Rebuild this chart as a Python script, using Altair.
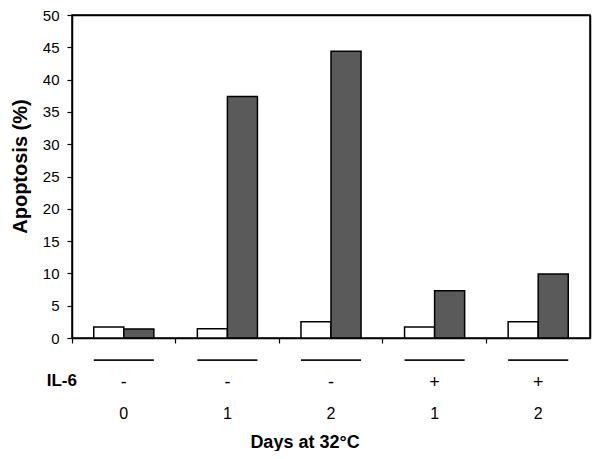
import altair as alt
import pandas as pd

# ---- data ----
groups = ["g1", "g2", "g3", "g4", "g5"]
il6_signs = ["-", "-", "-", "+", "+"]
days = ["0", "1", "2", "1", "2"]
white_values = [1.7, 1.45, 2.5, 1.7, 2.5]
gray_values = [1.4, 37.4, 44.4, 7.3, 9.9]
series_names = ["Series 1", "Series 2"]
series_colors = ["#ffffff", "#5a5a5a"]
y_ticks = [0, 5, 10, 15, 20, 25, 30, 35, 40, 45, 50]
y_max = 50

rows = []
for g, w, d in zip(groups, white_values, gray_values):
    rows.append({"group": g, "series": series_names[0], "value": w})
    rows.append({"group": g, "series": series_names[1], "value": d})
bars_df = pd.DataFrame(rows)
groups_df = pd.DataFrame({"group": groups, "il6": il6_signs, "days": days})
label_df = pd.DataFrame({"t": ["IL-6"]})
title_df = pd.DataFrame({"t": ["Days at 32°C"]})

FONT = "Liberation Sans"
W, H = 518, 323

x_scale = alt.Scale(domain=groups, paddingInner=0.42, paddingOuter=0.21)
y_scale = alt.Scale(domain=[0, y_max], nice=False)

bars = alt.Chart(bars_df).mark_bar(stroke="black", strokeWidth=1.5).encode(
    x=alt.X("group:N", scale=x_scale, sort=groups,
            axis=alt.Axis(orient="bottom", labels=False, title=None, ticks=True, tickSize=5,
                          tickColor="black", tickWidth=1.2, bandPosition=-0.362,
                          domainColor="black", domainWidth=1.5)),
    xOffset=alt.XOffset("series:N", sort=series_names),
    y=alt.Y("value:Q", scale=y_scale,
            axis=alt.Axis(orient="left", values=y_ticks, grid=False, title="Apoptosis  (%)",
                          titleFont=FONT, titleFontSize=20, titleFontWeight="bold",
                          titleColor="black", titleX=-52, titleY=151,
                          titleAngle=270, titleAlign="center", titleBaseline="middle",
                          labelFont=FONT, labelFontSize=15, labelColor="black",
                          labelPadding=8, tickSize=5, tickColor="black",
                          tickWidth=1.2, domainColor="black", domainWidth=1.5)),
    fill=alt.Fill("series:N", scale=alt.Scale(domain=series_names, range=series_colors),
                  legend=None),
)

# invisible layer whose top and right axes close the frame
frame = alt.Chart(bars_df).mark_bar(opacity=0).encode(
    x=alt.X("group:N", scale=x_scale, sort=groups,
            axis=alt.Axis(orient="top", labels=False, ticks=False, title=None,
                          domainColor="black", domainWidth=1.5)),
    y=alt.Y("value:Q", scale=y_scale,
            axis=alt.Axis(orient="right", labels=False, ticks=False, title=None,
                          grid=False, domainColor="black", domainWidth=1.5)),
)

lines = alt.Chart(groups_df).mark_bar(color="#111111").encode(
    x=alt.X("group:N", scale=x_scale, sort=groups, axis=None),
    y=alt.value(344.2),
    y2=alt.value(345.9),
)

signs = alt.Chart(groups_df).mark_text(font=FONT, fontSize=18, color="black",
                                       baseline="middle").encode(
    x=alt.X("group:N", scale=x_scale, sort=groups, axis=None),
    y=alt.value(368),
    text="il6:N",
)

day_text = alt.Chart(groups_df).mark_text(font=FONT, fontSize=16, color="black",
                                          baseline="middle").encode(
    x=alt.X("group:N", scale=x_scale, sort=groups, axis=None),
    y=alt.value(399),
    text="days:N",
)

il6_label = alt.Chart(label_df).mark_text(font=FONT, fontSize=17, fontWeight="bold",
                                          color="black", align="right",
                                          baseline="middle").encode(
    x=alt.value(5), y=alt.value(366), text="t:N")

x_title = alt.Chart(title_df).mark_text(font=FONT, fontSize=18, fontWeight="bold",
                                        color="black", align="center",
                                        baseline="middle").encode(
    x=alt.value(233), y=alt.value(427.5), text="t:N")

chart = alt.layer(bars, frame, lines, signs, day_text, il6_label, x_title).resolve_axis(
    x="independent", y="independent"
).properties(
    width=W, height=H,
    autosize=alt.AutoSizeParams(type="none"),
    padding={"left": 64, "top": 7, "right": 2, "bottom": 113},
    background="white",
).configure_view(stroke="black", strokeWidth=1.5)

chart.save("out.html", embed_options={"renderer": "svg", "actions": False})
